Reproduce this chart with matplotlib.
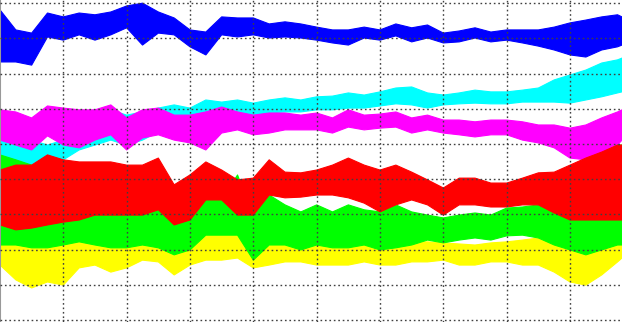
import matplotlib
matplotlib.use("Agg")
import matplotlib.pyplot as plt

# sample positions (grid units along x)
x = [0.0, 0.25, 0.5, 0.75, 1.0, 1.25, 1.5, 1.75, 2.0, 2.25,
     2.5, 2.75, 3.0, 3.25, 3.5, 3.75, 4.0, 4.25, 4.5, 4.75,
     5.0, 5.25, 5.5, 5.75, 6.0, 6.25, 6.5, 6.75, 7.0, 7.25,
     7.5, 7.75, 8.0, 8.25, 8.5, 8.75, 9.0, 9.25, 9.5, 9.75, 9.82]

# upper / lower envelopes of each signal
blue_hi = [8.81, 8.24, 8.15, 8.72, 8.61, 8.72, 8.67, 8.75, 8.92, 9.00,
           8.75, 8.58, 8.24, 8.18, 8.61, 8.58, 8.58, 8.41, 8.47, 8.41,
           8.32, 8.24, 8.24, 8.32, 8.24, 8.41, 8.30, 8.38, 8.15, 8.21,
           8.30, 8.18, 8.24, 8.24, 8.24, 8.32, 8.44, 8.52, 8.61, 8.67, 8.61]
blue_lo = [7.33, 7.33, 7.24, 8.04, 7.95, 8.10, 7.95, 8.10, 8.30, 7.81,
           8.15, 8.10, 7.76, 7.53, 8.10, 8.04, 8.10, 8.01, 8.04, 8.01,
           7.95, 7.87, 7.81, 8.01, 7.95, 8.07, 7.90, 8.01, 7.87, 7.90,
           8.01, 7.90, 7.95, 7.87, 7.78, 7.67, 7.53, 7.47, 7.67, 7.76, 7.81]

cyan_hi = [5.26, 5.17, 5.11, 4.97, 5.11, 5.45, 5.74, 5.97, 5.82, 5.91,
           6.02, 6.11, 6.02, 6.25, 6.19, 6.25, 6.16, 6.25, 6.31, 6.25,
           6.34, 6.36, 6.45, 6.39, 6.48, 6.59, 6.62, 6.45, 6.39, 6.45,
           6.53, 6.48, 6.48, 6.53, 6.59, 6.82, 6.96, 7.10, 7.30, 7.39, 7.44]
cyan_lo = [4.40, 4.49, 4.40, 4.46, 4.55, 4.83, 4.97, 5.11, 4.97, 5.11,
           5.34, 5.40, 5.40, 5.54, 5.74, 5.77, 5.77, 5.88, 5.91, 5.91,
           5.97, 5.97, 6.02, 6.02, 6.08, 6.14, 6.11, 6.02, 6.11, 6.14,
           6.16, 6.14, 6.14, 6.19, 6.19, 6.19, 6.16, 6.25, 6.34, 6.45, 6.48]

magenta_hi = [5.97, 5.91, 5.74, 6.08, 6.02, 5.97, 5.97, 6.11, 5.74, 5.97,
              6.02, 5.82, 5.82, 5.91, 6.05, 5.91, 5.82, 5.88, 5.88, 5.82,
              5.88, 5.74, 5.97, 5.82, 5.85, 5.91, 5.74, 5.82, 5.68, 5.68,
              5.63, 5.68, 5.68, 5.63, 5.54, 5.54, 5.45, 5.54, 5.74, 5.91, 5.97]
magenta_lo = [5.11, 4.97, 4.83, 5.23, 4.97, 4.89, 5.11, 5.26, 4.83, 5.17,
              5.26, 5.11, 5.03, 4.83, 5.31, 5.40, 5.26, 5.31, 5.40, 5.40,
              5.40, 5.31, 5.48, 5.40, 5.45, 5.48, 5.31, 5.40, 5.31, 5.26,
              5.20, 5.26, 5.26, 5.11, 5.03, 4.89, 4.60, 4.55, 4.69, 4.97, 5.11]

red_hi = [4.26, 4.40, 4.40, 4.69, 4.55, 4.49, 4.49, 4.49, 4.40, 4.40,
          4.60, 3.84, 4.12, 4.49, 4.26, 3.98, 4.03, 4.55, 4.20, 4.18,
          4.26, 4.40, 4.60, 4.40, 4.26, 4.40, 4.20, 3.98, 3.75, 4.03,
          4.03, 3.89, 3.89, 4.03, 4.18, 4.20, 4.40, 4.60, 4.77, 4.97, 4.97]
red_lo = [2.70, 2.56, 2.61, 2.70, 2.78, 2.84, 2.98, 2.98, 2.98, 2.98,
          3.13, 2.70, 2.84, 3.41, 3.41, 2.98, 2.98, 3.55, 3.47, 3.49,
          3.55, 3.55, 3.47, 3.32, 3.07, 3.27, 3.41, 3.27, 2.98, 3.27,
          3.27, 3.21, 3.21, 3.27, 3.27, 3.04, 2.84, 2.84, 2.84, 2.84, 2.84]

green_hi = [4.69, 4.55, 4.40, 4.40, 4.26, 4.26, 4.26, 4.20, 4.12, 4.05,
            3.98, 3.69, 3.64, 3.47, 3.41, 4.12, 2.98, 3.55, 3.27, 3.07,
            3.27, 3.07, 3.27, 3.13, 3.07, 3.27, 3.07, 2.98, 2.90, 2.98,
            3.04, 2.98, 3.18, 3.21, 3.27, 3.41, 3.84, 4.32, 4.60, 4.97, 4.97]
green_lo = [2.13, 2.13, 2.05, 2.05, 2.13, 2.22, 2.13, 2.05, 2.05, 2.13,
            2.05, 1.85, 1.99, 2.41, 2.41, 2.41, 1.70, 2.13, 2.13, 1.99,
            2.13, 2.05, 2.05, 2.13, 1.99, 2.05, 2.13, 2.27, 2.19, 2.27,
            2.33, 2.27, 2.39, 2.41, 2.33, 2.13, 1.99, 1.85, 1.99, 2.13, 2.13]

yellow_hi = [2.70, 2.56, 2.50, 2.50, 2.61, 2.70, 2.70, 2.61, 2.56, 2.50,
             2.50, 2.41, 2.41, 2.47, 2.50, 2.61, 2.22, 2.10, 2.27, 2.33,
             2.27, 2.27, 2.33, 2.27, 2.22, 2.27, 2.22, 2.22, 2.19, 2.16,
             2.13, 2.19, 2.22, 2.27, 2.33, 2.41, 2.50, 2.61, 2.90, 3.13, 3.18]
yellow_lo = [1.56, 1.14, 0.91, 1.08, 0.99, 1.48, 1.56, 1.36, 1.48, 1.70,
             1.65, 1.28, 1.56, 1.70, 1.70, 1.76, 1.48, 1.56, 1.65, 1.65,
             1.56, 1.56, 1.56, 1.65, 1.56, 1.56, 1.65, 1.65, 1.70, 1.56,
             1.56, 1.65, 1.65, 1.56, 1.56, 1.36, 1.08, 0.99, 1.28, 1.65, 1.76]

# drawing order, back to front
series = [
    (blue_hi, blue_lo, "#0000ff"),
    (cyan_hi, cyan_lo, "#00ffff"),
    (magenta_hi, magenta_lo, "#ff00ff"),
    (yellow_hi, yellow_lo, "#ffff00"),
    (green_hi, green_lo, "#00ff00"),
    (red_hi, red_lo, "#ff0000"),
]

fig = plt.figure(figsize=(6.22, 3.22), dpi=100)
ax = fig.add_axes([0, 0, 1, 1])

for i, (hi, lo, c) in enumerate(series):
    ax.fill_between(x, lo, hi, facecolor=c, edgecolor=c, linewidth=0.8,
                    zorder=1 + i * 0.1)

ax.set_xlim(0, 9.82)
ax.set_ylim(-0.057, 9.09)
ax.set_xticks(range(1, 10))
ax.set_yticks(range(0, 10))
ax.tick_params(length=0, labelbottom=False, labelleft=False)
ax.grid(True, color="0.25", linestyle=(0, (1.2, 2)), linewidth=1, zorder=5)
ax.set_axisbelow(False)
for s in ["top", "right", "bottom"]:
    ax.spines[s].set_visible(False)
ax.spines["left"].set_color("0.6")
ax.spines["left"].set_linewidth(1.5)

fig.savefig("out.png", dpi=100)
